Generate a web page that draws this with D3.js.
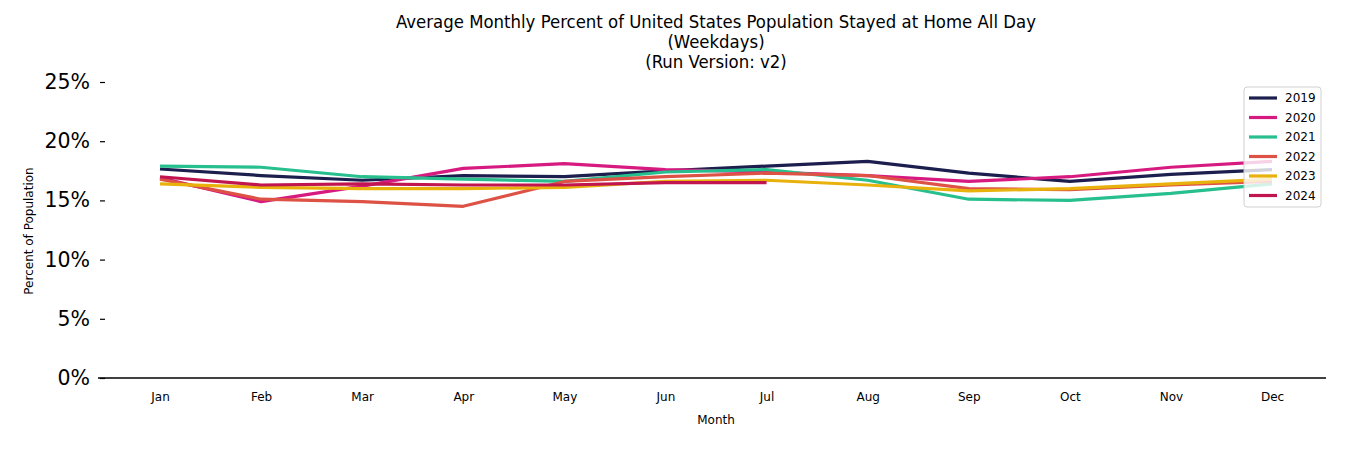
<!DOCTYPE html>
<html>
<head>
<meta charset="utf-8">
<script src="https://cdn.jsdelivr.net/npm/d3@7"></script>
<style>
  body { margin: 0; background: #fff; }
  svg { display: block; font-family: "DejaVu Sans", sans-serif; }
</style>
</head>
<body>
<svg id="chart" width="1350" height="450"></svg>
<script>
// chart data
const months = ['Jan', 'Feb', 'Mar', 'Apr', 'May', 'Jun', 'Jul', 'Aug', 'Sep', 'Oct', 'Nov', 'Dec'];
const years = ['2019', '2020', '2021', '2022', '2023', '2024'];
const yearColors = ['#1c1f4e', '#d61a80', '#27bf8e', '#de5246', '#e8b10c', '#c0154f'];
const yTicks = [0, 5, 10, 15, 20, 25];

const v2019 = [17.65, 17.1, 16.7, 17.1, 17.0, 17.5, 17.9, 18.3, 17.3, 16.6, 17.2, 17.6];
const v2020 = [16.9, 14.9, 16.2, 17.7, 18.1, 17.6, 17.4, 17.1, 16.6, 17.0, 17.8, 18.3];
const v2021 = [17.9, 17.8, 17.0, 16.8, 16.6, 17.4, 17.6, 16.7, 15.1, 15.0, 15.6, 16.4];
const v2022 = [16.8, 15.1, 14.9, 14.5, 16.6, 17.0, 17.3, 17.1, 16.0, 15.9, 16.3, 16.6];
const v2023 = [16.4, 16.1, 16.0, 16.0, 16.1, 16.6, 16.7, 16.3, 15.8, 16.0, 16.4, 16.8];
const v2024 = [17.0, 16.3, 16.4, 16.3, 16.3, 16.5, 16.5];
const seriesValues = [v2019, v2020, v2021, v2022, v2023, v2024];

const svg = d3.select('#chart');

const x = d3.scalePoint().domain(months).range([160, 1272]);
const y = d3.scaleLinear().domain([0, 25]).range([378, 82]);

// title
const titleLines = [
  'Average Monthly Percent of United States Population Stayed at Home All Day',
  '(Weekdays)',
  '(Run Version: v2)'
];
svg.append('g')
  .selectAll('text')
  .data(titleLines)
  .join('text')
  .attr('x', 716)
  .attr('y', (d, i) => 28 + i * 20)
  .attr('text-anchor', 'middle')
  .attr('font-family', '"DejaVu Sans Condensed", "DejaVu Sans", sans-serif')
  .attr('font-size', 18.4)
  .attr('fill', '#000')
  .text((d) => d);

// y axis (no spine)
const yAxis = d3.axisLeft(y)
  .tickValues(yTicks)
  .tickFormat((d) => d + '%')
  .tickSize(5)
  .tickPadding(10);
const gy = svg.append('g')
  .attr('transform', 'translate(105,0)')
  .call(yAxis);
gy.select('.domain').remove();
gy.selectAll('.tick line').attr('stroke', '#000').attr('stroke-width', 1.2);
gy.selectAll('.tick text')
  .attr('font-size', 20.5)
  .attr('font-family', '"DejaVu Sans", sans-serif')
  .attr('fill', '#000');

// x axis
const xAxis = d3.axisBottom(x).tickSize(0).tickPadding(14);
const gx = svg.append('g')
  .attr('transform', 'translate(0,378)')
  .call(xAxis);
gx.select('.domain').remove();
gx.selectAll('.tick text')
  .attr('font-size', 12)
  .attr('font-family', '"DejaVu Sans", sans-serif')
  .attr('fill', '#000');
svg.append('line')
  .attr('x1', 98).attr('x2', 1326)
  .attr('y1', 378).attr('y2', 378)
  .attr('stroke', '#000')
  .attr('stroke-width', 1.3);

// axis labels
svg.append('text')
  .attr('x', 716)
  .attr('y', 424)
  .attr('text-anchor', 'middle')
  .attr('font-size', 12)
  .text('Month');
svg.append('text')
  .attr('transform', 'translate(33,231) rotate(-90)')
  .attr('text-anchor', 'middle')
  .attr('font-size', 12)
  .text('Percent of Population');

// lines
const line = d3.line()
  .x((d, i) => x(months[i]))
  .y((d) => y(d));

svg.append('g')
  .selectAll('path')
  .data(seriesValues)
  .join('path')
  .attr('d', (d) => line(d))
  .attr('fill', 'none')
  .attr('stroke', (d, i) => yearColors[i])
  .attr('stroke-width', 3.2)
  .attr('stroke-linejoin', 'round');

// legend
const legend = svg.append('g').attr('transform', 'translate(1244,87)');
legend.append('rect')
  .attr('width', 77)
  .attr('height', 120)
  .attr('rx', 3)
  .attr('fill', '#fff')
  .attr('fill-opacity', 0.8)
  .attr('stroke', '#d0d0d0');
const items = legend.selectAll('g.item')
  .data(years)
  .join('g')
  .attr('class', 'item')
  .attr('transform', (d, i) => `translate(0,${11 + i * 19.5})`);
items.append('line')
  .attr('x1', 5).attr('x2', 33)
  .attr('stroke', (d, i) => yearColors[i])
  .attr('stroke-width', 3.2);
items.append('text')
  .attr('x', 41)
  .attr('dy', '0.35em')
  .attr('font-size', 12)
  .text((d) => d);
</script>
</body>
</html>
